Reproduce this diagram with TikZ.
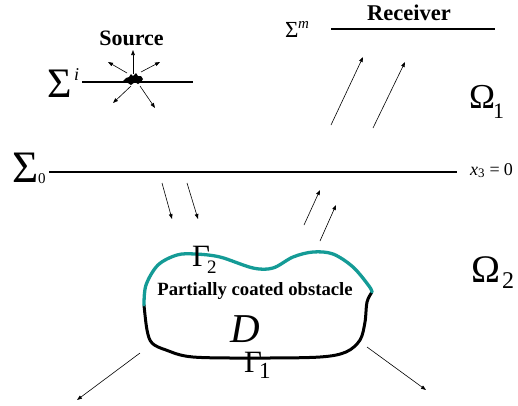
\documentclass[tikz,border=0pt]{standalone}
\usepackage{fontspec}
\setmainfont{Liberation Serif}
\usetikzlibrary{arrows.meta}
\definecolor{coat}{RGB}{20,155,150}
\newcommand{\fsz}[1]{\fontsize{#1}{#1}\selectfont}
\tikzset{
  ray/.style={-{Triangle[length=5pt,width=3.6pt]}, line width=0.6pt},
  plane/.style={line width=1.7pt},
  lbl/.style={inner sep=0pt, anchor=base west},
  title/.style={inner sep=0pt, anchor=base, font=\bfseries},
  wall/.style={line width=3pt, line join=round, line cap=round},
}
\begin{document}
\begin{tikzpicture}[x=1pt,y=-1pt]
\useasboundingbox (0,0) rectangle (518,405);

% ---- source
\node[title] (src) at (131.5,45) {\fsz{22}Source};
\node[lbl] (si) at (47,97) {\fsz{42}Σ};
\node[lbl] (sisup) at (74,80) {\fsz{18}\itshape i};
\coordinate (sl) at (82,82);
\coordinate (sr) at (193,82);
\draw[plane] (sl) -- (sr);
\fill (123,81) -- (126,78) -- (129,77) -- (131,74) -- (133,76) -- (136,73) -- (138,76) -- (141,76)
      -- (143,79) -- (141,82) -- (138,84) -- (135,82) -- (131,85) -- (128,83) -- cycle;
\coordinate (a1s) at (133,74);  \coordinate (a1e) at (133,50);
\coordinate (a2s) at (127,73);  \coordinate (a2e) at (108,62);
\coordinate (a3s) at (141,72);  \coordinate (a3e) at (160,62);
\coordinate (a4s) at (131,86);  \coordinate (a4e) at (113,103);
\coordinate (a5s) at (140,86);  \coordinate (a5e) at (155,108);
\foreach \k in {1,...,5} \draw[ray] (a\k s) -- (a\k e);

% ---- receiver
\node[title] (rcv) at (409,20) {\fsz{22.5}Receiver};
\node[lbl] (sm) at (285,37) {\fsz{23}Σ};
\node[lbl] (smsup) at (298,28) {\fsz{15}\itshape m};
\coordinate (rl) at (331,29);
\coordinate (rr) at (495,29);
\draw[plane] (rl) -- (rr);
\coordinate (b1s) at (331,125); \coordinate (b1e) at (363,57);
\coordinate (b2s) at (373,128); \coordinate (b2e) at (405,62);
\draw[ray] (b1s) -- (b1e);
\draw[ray] (b2s) -- (b2e);

% ---- Omega labels
\node[lbl] (om1) at (469,108) {\fsz{35}Ω};
\node[lbl] (om1sub) at (493,118) {\fsz{22}1};
\node[lbl] (om2) at (471,282) {\fsz{39}Ω};
\node[lbl] (om2sub) at (502,288) {\fsz{24}2};

% ---- interface x3 = 0
\node[lbl] (s0) at (12,182) {\fsz{45}Σ};
\node[lbl] (s0sub) at (38,183) {\fsz{15}0};
\coordinate (il) at (49,172);
\coordinate (ir) at (457,172);
\draw[plane] (il) -- (ir);
\node[lbl] (x3) at (470,175) {\fsz{18}\textit{x}\raisebox{-0.15em}{\fsz{13}3}\hspace{5pt}=\hspace{4pt}0};

% ---- rays through interface
\coordinate (c1s) at (162,183); \coordinate (c1e) at (172,219);
\coordinate (c2s) at (187,183); \coordinate (c2e) at (198,219);
\coordinate (c3s) at (304,225); \coordinate (c3e) at (320,190);
\coordinate (c4s) at (320,241); \coordinate (c4e) at (336,205);
\foreach \k in {1,...,4} \draw[ray] (c\k s) -- (c\k e);

% ---- obstacle
\draw[wall] plot[smooth, tension=0.55] coordinates {
  (372,292) (367,302) (365,322) (360,340) (346,352) (320,357) (260,358)
  (193,357) (166,350) (152,343) (147,330) (144,305)};
\draw[wall, coat, line width=3.3pt] plot[smooth, tension=0.55] coordinates {
  (144,305) (146,285) (158,265) (177,255) (195,254) (220,257) (253,268)
  (273,268) (293,257) (313,252) (333,254) (353,267) (369,286) (372,292)};

\node[lbl] (g2) at (192,266) {\fsz{31}Γ};
\node[lbl] (g2sub) at (207,273) {\fsz{19}2};
\node[title] (pco) at (255,295) {\fsz{18.7}Partially coated obstacle};
\node[lbl] (dd) at (230,342) {\fsz{41}\itshape D};
\node[lbl] (g1) at (244,372) {\fsz{31}Γ};
\node[lbl] (g1sub) at (259,378) {\fsz{23}1};

% ---- scattered rays
\coordinate (d1s) at (140,353); \coordinate (d1e) at (77,400);
\coordinate (d2s) at (367,347); \coordinate (d2e) at (426,390);
\draw[ray] (d1s) -- (d1e);
\draw[ray] (d2s) -- (d2e);
\end{tikzpicture}
\end{document}
